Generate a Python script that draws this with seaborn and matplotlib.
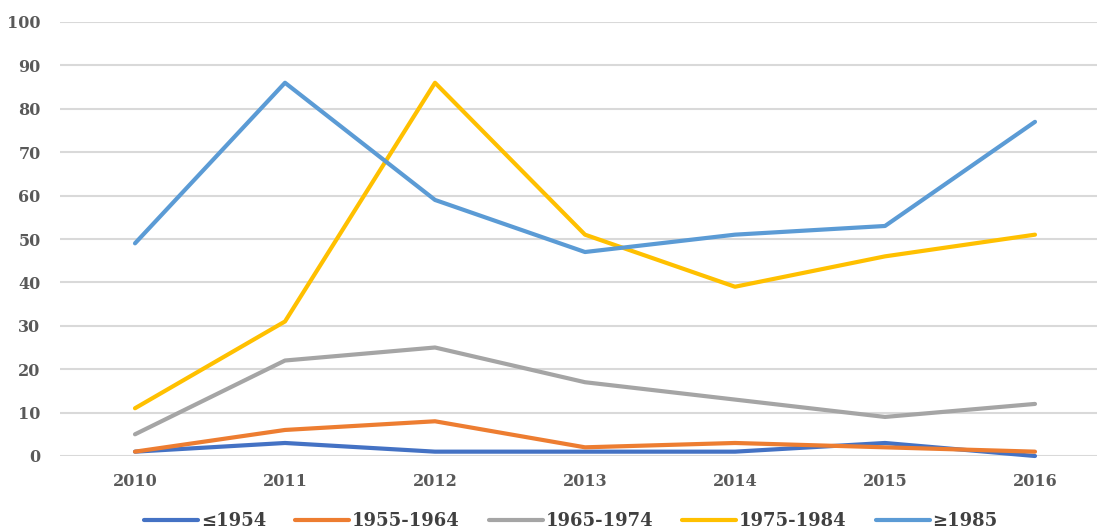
import pandas as pd
import matplotlib
matplotlib.use("Agg")
import matplotlib.pyplot as plt
import seaborn as sns

# data
years = ["2010", "2011", "2012", "2013", "2014", "2015", "2016"]
le1954 = [1, 3, 1, 1, 1, 3, 0]
b1955_1964 = [1, 6, 8, 2, 3, 2, 1]
b1965_1974 = [5, 22, 25, 17, 13, 9, 12]
b1975_1984 = [11, 31, 86, 51, 39, 46, 51]
ge1985 = [49, 86, 59, 47, 51, 53, 77]

groups = ["≤1954", "1955-1964", "1965-1974", "1975-1984", "≥1985"]
colors = ["#4472C4", "#ED7D31", "#A5A5A5", "#FFC000", "#5B9BD5"]

series = [le1954, b1955_1964, b1965_1974, b1975_1984, ge1985]
rows = []
for g, vals in zip(groups, series):
    for i, v in enumerate(vals):
        rows.append({"year": i, "group": g, "value": v})
df = pd.DataFrame(rows)

sns.set_style("white")
plt.rcParams['font.family'] = ['DejaVu Serif', 'DejaVu Sans']

fig = plt.figure(figsize=(10.97, 5.29), dpi=100)
ax = fig.add_axes([60 / 1097, 73 / 529, 1050 / 1097, 434 / 529])

sns.lineplot(data=df, x="year", y="value", hue="group", hue_order=groups,
             palette=colors, linewidth=3, ax=ax, legend=False, clip_on=False,
             zorder=3)

ax.set_xlim(-0.5, 6.5)
ax.set_ylim(0, 100)
ax.set_yticks(range(0, 101, 10))
ax.set_xticks(range(len(years)))
ax.set_xticklabels(years)
ax.yaxis.grid(True, color="#D9D9D9", linewidth=1.5)
ax.set_axisbelow(True)
for s in ax.spines.values():
    s.set_visible(False)
ax.tick_params(axis="both", length=0, labelsize=11.5, labelcolor="#595959")
ax.tick_params(axis="y", pad=14)
ax.tick_params(axis="x", pad=12)
for lab in ax.get_xticklabels() + ax.get_yticklabels():
    lab.set_fontweight("bold")
ax.set_xlabel("")
ax.set_ylabel("")

handles = [plt.Line2D([], [], color=c, linewidth=3) for c in colors]
leg = fig.legend(handles, groups, loc="center", bbox_to_anchor=(571 / 1097, 8 / 529),
                 ncol=5, frameon=False, fontsize=13, handlelength=3.0,
                 handletextpad=0.15, columnspacing=1.6)
for t in leg.get_texts():
    t.set_color("#404040")
    t.set_fontweight("bold")

fig.savefig("out.png", dpi=100)
